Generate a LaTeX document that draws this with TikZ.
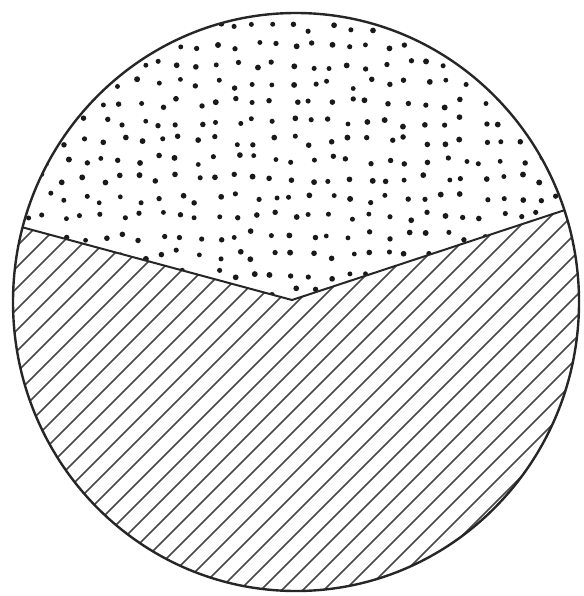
\documentclass[tikz,border=0pt]{standalone}
\usepackage{tikz}

\begin{document}
\begin{tikzpicture}[
				x=1pt, y=-1pt,
				rim/.style={line width=2.4pt, draw=black!85},
				seam/.style={line width=2pt, draw=black!85},
				hatch/.style={line width=1.5pt, draw=black!72},
				grain/.style={fill=black!90}
				]
				\useasboundingbox (0,0) rectangle (583,596);
				\coordinate (ctr) at (296,302);
				\coordinate (wl) at (25,228);
				\coordinate (tip) at (292,300);
				\coordinate (wr) at (565,210);
				
				\begin{scope}
					\clip (ctr) ellipse [x radius=283, y radius=289];
					% dotted cap
					\begin{scope}
						\clip (-10,-10) -- (600,-10) -- (600,198.5) -- (wr) -- (tip) -- (wl) -- (-10,218.6) -- cycle;
						\pgfmathsetseed{11}
						\foreach \i in {0,...,30}
						\foreach \j in {0,...,16} {
							\pgfmathsetmacro\dx{8+\i*19+rand*5}
							\pgfmathsetmacro\dy{8+\j*19+rand*5}
							\pgfmathsetmacro\dr{2.4+rnd*0.6}
							\fill[grain] (\dx,\dy) circle [radius=\dr pt];
						}
					\end{scope}
					% hatched body
					\begin{scope}
						\clip (-10,218.6) -- (wl) -- (tip) -- (wr) -- (600,198.5) -- (600,610) -- (-10,610) -- cycle;
						\foreach \k in {-22,...,28}
						\draw[hatch] (\k*21,620) -- ++(640,-640);
					\end{scope}
					\draw[seam] (-10,218.6) -- (wl) -- (tip) -- (wr) -- (600,198.5);
				\end{scope}
				\draw[rim] (ctr) ellipse [x radius=283, y radius=289];
			\end{tikzpicture}
\end{document}
